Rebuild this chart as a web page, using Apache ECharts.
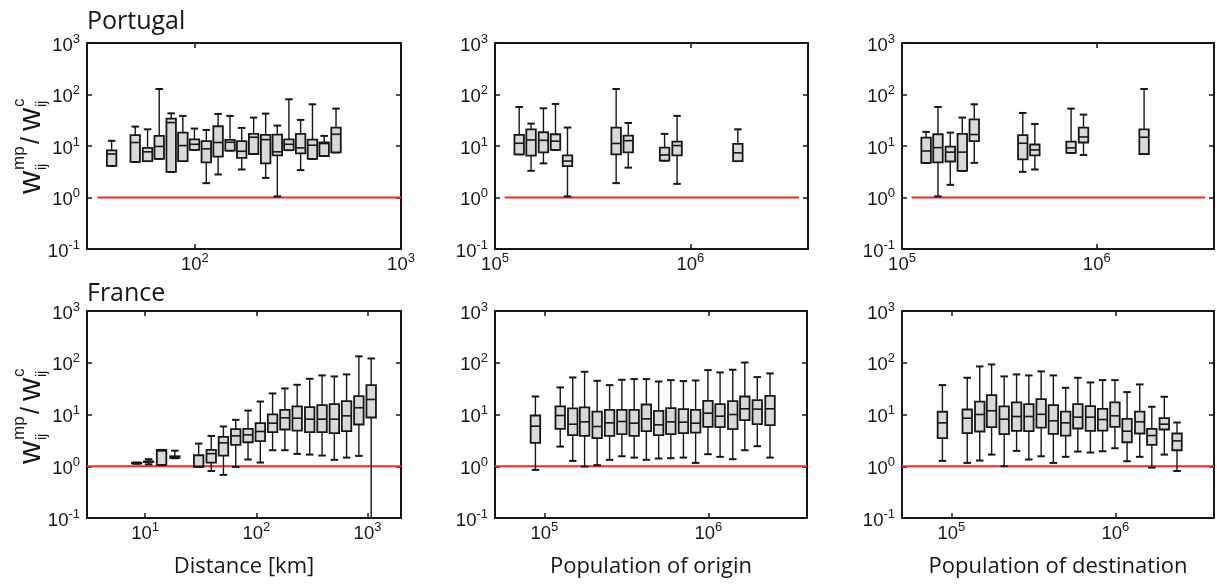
<!DOCTYPE html>
<html>
<head>
<meta charset="utf-8">
<title>Boxplots</title>
<script src="https://cdn.jsdelivr.net/npm/echarts@6/dist/echarts.min.js"></script>
<style>
  html, body { margin: 0; padding: 0; background: #fff; }
  #main { width: 1217px; height: 587px; }
</style>
</head>
<body>
<div id="main"></div>
<script>
// box rows: [low whisker, q1, median, q3, high whisker]
const ptDistX = [39.5, 51.4, 59.0, 67.2, 76.8, 87.5, 99.6, 113.7, 129.7, 148.2, 168.8, 192.9, 220.6, 251.3, 286, 326, 372, 424, 484];
const ptDistBox = [
  [4.1, 4.1, 7.0, 8.2, 12.6], [4.9, 4.9, 11.7, 16.2, 23.8], [5.1, 5.1, 7.7, 9.2, 21.1],
  [5.6, 5.6, 9.8, 15.7, 128], [3.15, 3.15, 28.5, 34, 43], [5.1, 5.1, 10.2, 18.2, 38.4],
  [8.4, 8.4, 10.8, 13.5, 21.8], [1.9, 4.8, 8.8, 12.4, 20.5], [2.8, 6.2, 11.7, 24.2, 41.9],
  [8.15, 8.15, 11.8, 13.1, 38.4], [3.5, 5.9, 7.9, 12.4, 22.4], [7.0, 7.0, 14.8, 17.2, 35.6],
  [2.4, 4.6, 13.3, 16.4, 42.6], [1.05, 6.6, 7.7, 16.7, 24.9], [8.3, 8.3, 10.8, 13.5, 80.7],
  [3.4, 7.2, 9.2, 17.2, 32.1], [5.6, 5.6, 10.35, 13.3, 64.6], [6.4, 6.4, 11.15, 11.8, 15.7],
  [7.5, 7.5, 16.9, 22.8, 53.2]
];

const ptPopX = [1.33e5, 1.53e5, 1.77e5, 2.04e5, 2.35e5, 4.17e5, 4.81e5, 7.38e5, 8.55e5, 1.75e6];
const ptOrigBox = [
  [6.9, 6.9, 11.3, 16.4, 57.3], [3.3, 6.5, 13.1, 21.1, 27.2], [4.6, 7.5, 12.9, 18.5, 54],
  [8.4, 8.4, 12.4, 16.9, 65.5], [1.05, 4.05, 5.1, 6.6, 22.8], [1.9, 6.9, 11.2, 22.8, 128],
  [3.8, 7.5, 12.7, 15.9, 28], [5.2, 5.2, 6.7, 9.3, 17.2], [1.84, 6.6, 10.2, 12.2, 38.4],
  [5.1, 5.1, 7.35, 11, 21.1]
];
const ptDestBox = [
  [4.7, 4.7, 8.0, 14.6, 18.8], [1.05, 4.8, 9.3, 16.9, 57.3], [1.76, 5.0, 7.6, 9.75, 18.2],
  [3.3, 3.3, 7.6, 17.2, 35.6], [4.7, 12.4, 16.7, 33, 64.6], [3.15, 5.5, 11.3, 16.2, 43.8],
  [3.5, 6.6, 8.4, 10.7, 26.8], [7.35, 7.35, 9.2, 12.2, 53.2], [6.7, 11.7, 15.0, 22.8, 40.7],
  [7.0, 7.0, 14.8, 21.1, 128]
];

const frDistX = [8.4, 10.75, 14.05, 18.5, 30.3, 39.3, 50.6, 65.3, 84.2, 108.6, 140, 180.7, 233, 302, 390, 503, 648, 836, 1079];
const frDistBox = [
  [1.12, 1.13, 1.15, 1.17, 1.18], [1.09, 1.22, 1.23, 1.24, 1.37], [1.06, 1.06, 1.98, 2.07, 2.07],
  [1.43, 1.45, 1.5, 1.56, 2.0], [0.97, 0.97, 1.0, 1.63, 2.74], [0.81, 1.17, 1.75, 2.07, 3.86],
  [0.68, 1.61, 2.83, 3.70, 5.86], [0.97, 2.59, 3.87, 5.20, 7.88], [1.35, 2.91, 4.04, 5.28, 11.9],
  [1.18, 3.05, 4.69, 6.80, 17.8], [2.04, 4.55, 6.80, 10.1, 25.5], [2.04, 5.13, 8.62, 12.3, 31.9],
  [1.73, 4.90, 8.49, 14.3, 37.5], [1.68, 4.55, 8.12, 13.9, 49.0], [1.61, 4.55, 8.12, 15.2, 56.9],
  [1.33, 4.35, 8.12, 15.85, 54.4], [1.47, 4.76, 9.42, 18.1, 59.5], [1.585, 6.41, 13.5, 22.6, 133],
  [0.02, 8.75, 19.5, 37.0, 121]
];

const frPopX = [8.82e4, 1.25e5, 1.49e5, 1.76e5, 2.10e5, 2.50e5, 2.97e5, 3.53e5, 4.19e5, 4.98e5, 5.91e5, 7.05e5, 8.37e5, 9.95e5, 1.18e6, 1.41e6, 1.67e6, 1.99e6, 2.38e6];
const frOrigBox = [
  [0.85, 2.83, 5.95, 9.56, 22.3], [2.40, 5.28, 9.56, 14.3, 33.3], [1.27, 3.98, 6.50, 13.1, 52.0],
  [0.985, 3.87, 7.21, 13.7, 66.9], [1.05, 3.48, 5.86, 11.4, 44.8], [1.33, 3.87, 6.90, 12.3, 37.0],
  [1.56, 4.16, 7.32, 12.3, 46.9], [1.47, 3.87, 6.80, 12.3, 48.3], [1.33, 4.76, 8.24, 15.6, 48.3],
  [1.41, 3.98, 6.31, 11.8, 43.5], [1.43, 4.16, 7.21, 13.3, 46.2], [1.47, 4.35, 7.10, 12.7, 44.2],
  [1.16, 4.48, 6.80, 12.3, 45.5], [1.71, 5.77, 10.6, 18.4, 72.1], [1.52, 5.69, 9.28, 15.85, 65.0],
  [1.37, 5.20, 10.0, 18.1, 73.2], [2.04, 7.77, 12.9, 22.3, 101], [2.44, 6.50, 12.7, 18.9, 52.8],
  [1.47, 6.22, 12.9, 23.0, 62.2]
];
const frDestBox = [
  [1.27, 3.48, 6.90, 11.3, 37.0], [1.16, 4.35, 8.49, 12.5, 51.2], [1.29, 4.69, 10.0, 17.8, 84.9],
  [1.68, 5.69, 11.8, 23.7, 92.8], [1.0, 4.16, 8.12, 14.3, 54.4], [1.98, 4.83, 9.15, 17.1, 59.5],
  [1.35, 4.76, 9.15, 15.85, 56.9], [1.56, 5.60, 10.1, 19.8, 68.0], [1.16, 4.22, 7.54, 15.2, 56.9],
  [1.52, 3.92, 6.90, 11.4, 32.8], [1.92, 5.36, 8.88, 15.85, 51.2], [1.84, 4.83, 8.88, 14.5, 41.6],
  [1.95, 4.90, 8.0, 12.9, 46.2], [2.23, 5.77, 9.42, 17.1, 46.2], [1.25, 2.91, 4.76, 8.24, 27.1],
  [1.52, 4.29, 7.21, 11.4, 38.1], [0.94, 2.59, 3.92, 5.28, 14.1], [1.68, 5.13, 6.50, 8.49, 22.0],
  [0.81, 2.04, 3.09, 4.29, 7.0]
];

// x extents, red reference line (y = 1) spans, axis titles
const xRanges = [[30, 1000], [1e5, 4e6], [1e5, 4e6], [3, 2000], [5e4, 4e6], [5e4, 4e6]];
const refSpans = [[33.7, 1000], [1.12e5, 3.6e6], [1.12e5, 3.6e6], [3, 2000], [5e4, 4e6], [5e4, 4e6]];
const xTitles = ['', '', '', 'Distance [km]', 'Population of origin', 'Population of destination'];
const yRange = [0.1, 1000];

const panels = [
  { x: ptDistX, box: ptDistBox },
  { x: ptPopX, box: ptOrigBox },
  { x: ptPopX, box: ptDestBox },
  { x: frDistX, box: frDistBox },
  { x: frPopX, box: frOrigBox },
  { x: frPopX, box: frDestBox },
];

const grids = [
  { left: 87, top: 43, width: 314, height: 206 },
  { left: 495, top: 43, width: 313, height: 206 },
  { left: 902, top: 43, width: 313, height: 206 },
  { left: 87, top: 311, width: 314, height: 207 },
  { left: 495, top: 311, width: 312, height: 207 },
  { left: 902, top: 311, width: 313, height: 207 },
];

const INK = '#161616';
const BOX_W = 9.5;
const CAP_W = 7.5;

const powLabel = (v) => {
  const e = Math.log10(v);
  const r = Math.round(e);
  if (Math.abs(e - r) > 1e-6) return '';
  return '{b|10}{s|' + r + '}';
};

const labelRich = {
  b: { fontSize: 18.5, fontFamily: 'Liberation Sans', color: INK, lineHeight: 21, padding: [5, 0, 0, 0] },
  s: { fontSize: 13, fontFamily: 'Liberation Sans', color: INK, lineHeight: 13, verticalAlign: 'top' },
};

const frameLine = { show: true, lineStyle: { color: INK, width: 2 } };
const innerTick = { show: true, inside: true, length: 5, lineStyle: { color: INK, width: 1.5 } };

/** 单个箱线图 */
const renderBox = (params, api) => {
  const x = api.value(0);
  const lo = api.coord([x, api.value(1)]);
  const q1 = api.coord([x, api.value(2)]);
  const md = api.coord([x, api.value(3)]);
  const q3 = api.coord([x, api.value(4)]);
  const hi = api.coord([x, api.value(5)]);
  const cx = md[0];
  const hw = BOX_W / 2;
  const cw = CAP_W / 2;
  const thin = { stroke: INK, lineWidth: 1.4 };
  const thick = { stroke: INK, lineWidth: 2 };
  return {
    type: 'group',
    children: [
      { type: 'line', shape: { x1: cx, y1: hi[1], x2: cx, y2: q3[1] }, style: thin },
      { type: 'line', shape: { x1: cx, y1: q1[1], x2: cx, y2: lo[1] }, style: thin },
      { type: 'line', shape: { x1: cx - cw, y1: hi[1], x2: cx + cw, y2: hi[1] }, style: thick },
      { type: 'line', shape: { x1: cx - cw, y1: lo[1], x2: cx + cw, y2: lo[1] }, style: thick },
      {
        type: 'rect',
        shape: { x: cx - hw, y: q3[1], width: BOX_W, height: Math.max(q1[1] - q3[1], 0.5) },
        style: { fill: '#d9d9d9', stroke: INK, lineWidth: 1.8 },
      },
      { type: 'line', shape: { x1: cx - hw, y1: md[1], x2: cx + hw, y2: md[1] }, style: { stroke: INK, lineWidth: 1.6 } },
    ],
  };
};

const xAxes = [];
const yAxes = [];
const series = [];

panels.forEach((p, i) => {
  const [xmin, xmax] = xRanges[i];
  xAxes.push({
    type: 'log', logBase: 10, gridIndex: i, min: xmin, max: xmax,
    axisLine: frameLine, axisTick: innerTick, splitLine: { show: false },
    axisLabel: { formatter: powLabel, rich: labelRich, margin: 3, showMinLabel: true, showMaxLabel: true },
    name: xTitles[i], nameLocation: 'middle', nameGap: 38,
    nameTextStyle: { fontSize: 22, fontFamily: 'Open Sans', color: INK },
  });
  xAxes.push({
    type: 'log', logBase: 10, gridIndex: i, min: xmin, max: xmax, position: 'top',
    axisLine: frameLine, axisTick: innerTick, splitLine: { show: false }, axisLabel: { show: false },
  });
  yAxes.push({
    type: 'log', logBase: 10, gridIndex: i, min: yRange[0], max: yRange[1],
    axisLine: frameLine, axisTick: innerTick, splitLine: { show: false },
    axisLabel: { formatter: powLabel, rich: labelRich, margin: 7 },
  });
  yAxes.push({
    type: 'log', logBase: 10, gridIndex: i, min: yRange[0], max: yRange[1], position: 'right',
    axisLine: frameLine, axisTick: innerTick, splitLine: { show: false }, axisLabel: { show: false },
  });

  series.push({
    type: 'line', xAxisIndex: 2 * i, yAxisIndex: 2 * i,
    data: refSpans[i].map((v) => [v, 1]),
    showSymbol: false, silent: true, animation: false,
    lineStyle: { color: '#ee2a2a', width: 1.8 }, z: 1,
  });
  series.push({
    type: 'custom', xAxisIndex: 2 * i, yAxisIndex: 2 * i,
    renderItem: renderBox, clip: true, animation: false, z: 3,
    encode: { x: 0, y: [1, 2, 3, 4, 5] },
    data: p.x.map((x, k) => [x].concat(p.box[k])),
  });
});

/** 纵轴标题 w_ij^mp / w_ij^c */
const yTitle = (x, y) => ({
  type: 'group', x: x, y: y, rotation: Math.PI / 2,
  children: [
    ['w', 0, -2, 32], ['mp', 24, -14, 17], ['ij', 24, 9, 14], ['/', 50, -1, 25],
    ['w', 63, -2, 32], ['c', 87, -14, 17], ['ij', 87, 9, 14],
  ].map(([t, lx, ly, fs]) => ({
    type: 'text', x: lx, y: ly,
    style: { text: t, fontSize: fs, fontFamily: 'Liberation Sans', fill: INK, align: 'left', verticalAlign: 'middle' },
  })),
});

const option = {
  animation: false,
  backgroundColor: '#fff',
  grid: grids,
  xAxis: xAxes,
  yAxis: yAxes,
  series: series,
  graphic: [
    { type: 'text', x: 87, y: 22, style: { text: 'Portugal', fontSize: 25, fontFamily: 'Open Sans', fill: INK, verticalAlign: 'middle' } },
    { type: 'text', x: 87, y: 294, style: { text: 'France', fontSize: 25, fontFamily: 'Open Sans', fill: INK, verticalAlign: 'middle' } },
    yTitle(33, 194),
    yTitle(33, 464),
  ],
};

const chart = echarts.init(document.getElementById('main'), null, { renderer: 'canvas' });
chart.setOption(option);
</script>
</body>
</html>
